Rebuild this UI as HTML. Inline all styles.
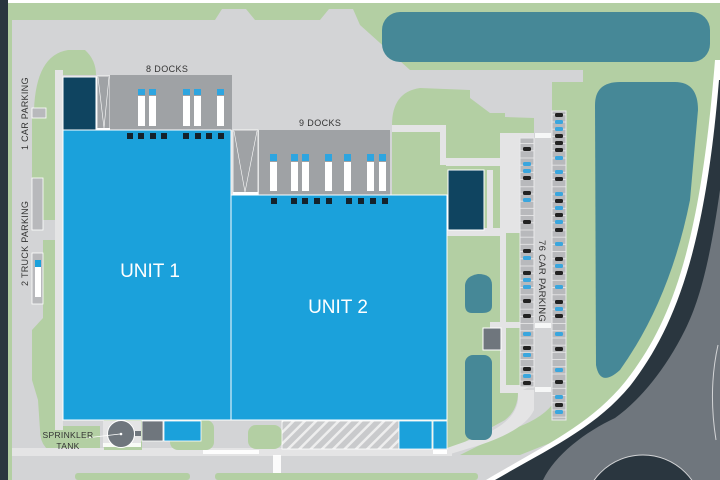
<!DOCTYPE html>
<html><head><meta charset="utf-8"><style>
html,body{margin:0;padding:0;background:#b3cfa3;width:720px;height:480px;overflow:hidden;}
svg{display:block;font-family:"Liberation Sans",sans-serif;}
</style></head><body>
<svg width="720" height="480" viewBox="0 0 720 480" xmlns="http://www.w3.org/2000/svg">
<defs>
<pattern id="hatch" width="8" height="8" patternUnits="userSpaceOnUse" patternTransform="rotate(45)">
<rect width="8" height="8" fill="#c9cacc"/><rect width="2.5" height="8" fill="#eeeeee"/>
</pattern>
<pattern id="stall" width="14" height="7.2" patternUnits="userSpaceOnUse">
<rect width="14" height="7.2" fill="#b8b9bc"/><rect y="6.4" width="14" height="0.8" fill="#e9e9ea"/>
</pattern>
</defs>
<rect width="720" height="480" fill="#b3cfa3"/>
<rect x="0" y="0" width="8" height="480" fill="#2a363f"/>
<rect x="8" y="0" width="712" height="3" fill="#ffffff"/>
<path d="M12,20 L215,20 L222,9 L246,9 L255,20 L320,20 L329,9 L353,9 L360,25 L410,70 L583,70 L583,82 L552,82 L552,135 L534,135 L534,118 L505,117 L505,113 L490,113 L470,98 L470,90 L420,88 Q392,92 392,125 L392,470 L12,470 Z" fill="#d3d4d6"/>
<path d="M34,110 Q36,55 68,50 L85,50 Q96,60 96,75 L60,75 L58,210 L43,210 L43,110 Z" fill="#b3cfa3"/>
<rect x="32" y="110" width="26" height="110" fill="#b3cfa3"/>
<path d="M43,240 L58,240 L58,420 L62,426 L100,426 L100,455 L62,455 Q40,452 40,430 L38,400 L32,380 L32,330 L43,318 Z" fill="#b3cfa3"/>
<rect x="55" y="70" width="8" height="360" fill="#e4e4e5"/>
<rect x="32" y="108" width="14" height="10" fill="#b8b9bc" stroke="#fff" stroke-width="0.8"/>
<rect x="32" y="178" width="11" height="52" fill="#b8b9bc" stroke="#fff" stroke-width="0.8"/>
<rect x="32" y="253" width="11" height="51" fill="#b8b9bc" stroke="#fff" stroke-width="0.8"/>
<rect x="35" y="261" width="6" height="36" fill="#fff"/>
<rect x="35" y="260" width="6" height="7" fill="#1ba1db"/>
<rect x="392" y="125" width="52" height="7" fill="#e4e4e5"/>
<rect x="440" y="125" width="6" height="40" fill="#e4e4e5"/>
<rect x="446" y="158" width="60" height="8" fill="#e4e4e5"/>
<rect x="500" y="133" width="34" height="100" fill="#e4e4e5"/>
<rect x="446" y="228" width="58" height="8" fill="#e4e4e5"/>
<rect x="487" y="170" width="6" height="62" fill="#e4e4e5"/>
<rect x="500" y="230" width="6" height="160" fill="#e4e4e5"/>
<rect x="490" y="322" width="30" height="6" fill="#e4e4e5"/>
<rect x="500" y="385" width="34" height="8" fill="#e4e4e5"/>
<rect x="534" y="118" width="18" height="275" fill="#d3d4d6"/>
<path d="M534,385 L552,385 L552,405 Q540,420 510,430 L450,460 L392,465 L392,455 L450,450 L505,420 Q518,410 518,392 Z" fill="#d3d4d6"/>
<path d="M518,390 L534,390 L534,410 Q525,430 480,445 L447,455 L447,448 L470,440 Q515,425 518,400 Z" fill="#e4e4e5"/>
<path d="M12,455 L520,455 L545,445 L560,440 L530,470 L500,480 L12,480 Z" fill="#d3d4d6"/>
<rect x="12" y="448" width="440" height="8" fill="#e4e4e5"/>
<rect x="75" y="473" width="115" height="7" fill="#b3cfa3" rx="3"/>
<rect x="215" y="473" width="28" height="7" fill="#b3cfa3" rx="3"/>
<rect x="238" y="473" width="240" height="7" fill="#b3cfa3" rx="3"/>
<rect x="104" y="420" width="38" height="30" fill="#b3cfa3"/>
<rect x="170" y="420" width="44" height="30" fill="#b3cfa3" rx="8"/>
<rect x="248" y="425" width="34" height="24" fill="#b3cfa3" rx="8"/>
<rect x="103" y="443" width="38" height="4" fill="#fff" opacity="0.9"/>
<rect x="203" y="450" width="56" height="4" fill="#fff" opacity="0.9"/>
<rect x="273" y="455" width="8" height="18" fill="#fff" opacity="0.9"/>
<rect x="433" y="450" width="14" height="4" fill="#fff"/>
<rect x="382" y="12" width="328" height="50" rx="18" fill="#468897"/>
<path d="M595,105 Q595,82 620,82 L675,82 Q698,82 698,110 L690,200 Q670,300 620,370 Q600,388 596,365 Z" fill="#468897"/>
<path d="M465,285 Q466,276 478,274 Q492,274 492,285 L492,306 Q492,313 482,313 L472,313 Q465,313 465,305 Z" fill="#468897"/>
<rect x="465" y="355" width="27" height="85" rx="8" fill="#468897"/>
<rect x="483" y="328" width="18" height="22" fill="#6f767d" stroke="#fff" stroke-width="1"/>
<!-- road -->
<path d="M715,60 L720,60 L720,480 L486,480 C545,445 590,425 625,382 C670,325 700,250 715,60 Z" fill="#ffffff"/>
<path d="M719,80 L720,80 L720,480 L495,480 C550,448 595,428 630,386 C675,328 705,250 719,80 Z" fill="#2a363f"/>
<path d="M720,190 L720,480 L543,480 C555,455 585,432 615,418 C640,400 665,370 685,330 C700,300 710,260 720,190 Z" fill="#6f767d"/>
<circle cx="643" cy="515" r="60" fill="#2a363f" stroke="#d3d4d6" stroke-width="1"/>
<path d="M718,345 Q708,390 716,440" fill="none" stroke="#d3d4d6" stroke-width="1"/>
<rect x="552" y="111" width="14" height="309" fill="url(#stall)" stroke="#e9e9ea" stroke-width="1"/>
<rect x="520" y="138" width="14" height="249" fill="url(#stall)" stroke="#e9e9ea" stroke-width="1"/>
<g fill="#222">
<rect x="555" y="113" width="8" height="4" rx="1.5"/><rect x="555" y="134" width="8" height="4" rx="1.5"/><rect x="555" y="141" width="8" height="4" rx="1.5"/><rect x="555" y="148" width="8" height="4" rx="1.5"/><rect x="555" y="177" width="8" height="4" rx="1.5"/><rect x="555" y="199" width="8" height="4" rx="1.5"/><rect x="555" y="213" width="8" height="4" rx="1.5"/><rect x="555" y="228" width="8" height="4" rx="1.5"/><rect x="555" y="257" width="8" height="4" rx="1.5"/><rect x="555" y="271" width="8" height="4" rx="1.5"/><rect x="555" y="300" width="8" height="4" rx="1.5"/><rect x="555" y="314" width="8" height="4" rx="1.5"/><rect x="555" y="347" width="8" height="4" rx="1.5"/><rect x="555" y="380" width="8" height="4" rx="1.5"/><rect x="555" y="403" width="8" height="4" rx="1.5"/>
<rect x="523" y="147" width="8" height="4" rx="1.5"/><rect x="523" y="176" width="8" height="4" rx="1.5"/><rect x="523" y="191" width="8" height="4" rx="1.5"/><rect x="523" y="220" width="8" height="4" rx="1.5"/><rect x="523" y="249" width="8" height="4" rx="1.5"/><rect x="523" y="271" width="8" height="4" rx="1.5"/><rect x="523" y="299" width="8" height="4" rx="1.5"/><rect x="523" y="314" width="8" height="4" rx="1.5"/><rect x="523" y="346" width="8" height="4" rx="1.5"/><rect x="523" y="367" width="8" height="4" rx="1.5"/><rect x="523" y="381" width="8" height="4" rx="1.5"/>
</g>
<g fill="#3aa6de">
<rect x="555" y="120" width="8" height="4" rx="1.5"/><rect x="555" y="127" width="8" height="4" rx="1.5"/><rect x="555" y="156" width="8" height="4" rx="1.5"/><rect x="555" y="170" width="8" height="4" rx="1.5"/><rect x="555" y="192" width="8" height="4" rx="1.5"/><rect x="555" y="206" width="8" height="4" rx="1.5"/><rect x="555" y="220" width="8" height="4" rx="1.5"/><rect x="555" y="242" width="8" height="4" rx="1.5"/><rect x="555" y="264" width="8" height="4" rx="1.5"/><rect x="555" y="285" width="8" height="4" rx="1.5"/><rect x="555" y="307" width="8" height="4" rx="1.5"/><rect x="555" y="332" width="8" height="4" rx="1.5"/><rect x="555" y="368" width="8" height="4" rx="1.5"/><rect x="555" y="395" width="8" height="4" rx="1.5"/><rect x="555" y="410" width="8" height="4" rx="1.5"/>
<rect x="523" y="162" width="8" height="4" rx="1.5"/><rect x="523" y="169" width="8" height="4" rx="1.5"/><rect x="523" y="198" width="8" height="4" rx="1.5"/><rect x="523" y="256" width="8" height="4" rx="1.5"/><rect x="523" y="278" width="8" height="4" rx="1.5"/><rect x="523" y="285" width="8" height="4" rx="1.5"/><rect x="523" y="332" width="8" height="4" rx="1.5"/><rect x="523" y="353" width="8" height="4" rx="1.5"/><rect x="523" y="374" width="8" height="4" rx="1.5"/>
</g>
<rect x="535" y="133" width="16" height="5" fill="#fff" opacity="0.8"/>
<rect x="535" y="323" width="16" height="5" fill="#fff" opacity="0.8"/>
<rect x="535" y="387" width="16" height="5" fill="#fff" opacity="0.8"/>
<text transform="translate(539,240) rotate(90)" font-size="9.5" fill="#333" letter-spacing="0.3">76 CAR PARKING</text>
<rect x="63" y="77" width="33" height="53" fill="#0f4460" stroke="#fff" stroke-width="1"/>
<rect x="97" y="76" width="13" height="54" fill="#9fa2a5" stroke="#fff" stroke-width="0.8"/>
<path d="M98,77 L104,128 L109,77" fill="none" stroke="#fff" stroke-width="0.6"/>
<rect x="97" y="128" width="14" height="4" fill="#fff"/>
<rect x="110" y="75" width="122" height="55" fill="#9fa2a5"/>
<rect x="233" y="130" width="25" height="65" fill="#9fa2a5" stroke="#fff" stroke-width="0.8"/>
<path d="M234,131 L245,192 L257,131" fill="none" stroke="#fff" stroke-width="0.6"/>
<rect x="233" y="192" width="25" height="4" fill="#fff"/>
<rect x="259" y="130" width="131" height="65" fill="#9fa2a5"/>
<rect x="63" y="130" width="168" height="290" fill="#1ba1db" stroke="#fff" stroke-width="1"/>
<rect x="231" y="195" width="216" height="225" fill="#1ba1db" stroke="#fff" stroke-width="1"/>
<rect x="448" y="170" width="36" height="60" fill="#0f4460" stroke="#fff" stroke-width="1"/>
<g fill="#fff"><rect x="138" y="96" width="7" height="30"/><rect x="149" y="96" width="7" height="30"/><rect x="183" y="96" width="7" height="30"/><rect x="194" y="96" width="7" height="30"/><rect x="217" y="96" width="7" height="30"/>
<rect x="270" y="162" width="7" height="29"/><rect x="291" y="162" width="7" height="29"/><rect x="302" y="162" width="7" height="29"/><rect x="325" y="162" width="7" height="29"/><rect x="344" y="162" width="7" height="29"/><rect x="367" y="162" width="7" height="29"/><rect x="379" y="162" width="7" height="29"/></g>
<g fill="#2ea5e0"><rect x="138" y="89" width="7" height="6"/><rect x="149" y="89" width="7" height="6"/><rect x="183" y="89" width="7" height="6"/><rect x="194" y="89" width="7" height="6"/><rect x="217" y="89" width="7" height="6"/>
<rect x="270" y="154" width="7" height="7"/><rect x="291" y="154" width="7" height="7"/><rect x="302" y="154" width="7" height="7"/><rect x="325" y="154" width="7" height="7"/><rect x="344" y="154" width="7" height="7"/><rect x="367" y="154" width="7" height="7"/><rect x="379" y="154" width="7" height="7"/></g>
<g fill="#14222c"><rect x="127" y="133" width="6" height="6"/><rect x="138" y="133" width="6" height="6"/><rect x="150" y="133" width="6" height="6"/><rect x="161" y="133" width="6" height="6"/><rect x="183" y="133" width="6" height="6"/><rect x="195" y="133" width="6" height="6"/><rect x="206" y="133" width="6" height="6"/><rect x="218" y="133" width="6" height="6"/>
<rect x="271" y="198" width="6" height="6"/><rect x="291" y="198" width="6" height="6"/><rect x="302" y="198" width="6" height="6"/><rect x="314" y="198" width="6" height="6"/><rect x="326" y="198" width="6" height="6"/><rect x="346" y="198" width="6" height="6"/><rect x="358" y="198" width="6" height="6"/><rect x="370" y="198" width="6" height="6"/><rect x="382" y="198" width="6" height="6"/></g>
<text x="146" y="72" font-size="9" fill="#333" letter-spacing="0.4">8 DOCKS</text>
<text x="299" y="126" font-size="9" fill="#333" letter-spacing="0.4">9 DOCKS</text>
<text x="150" y="277" font-size="19" fill="#fff" text-anchor="middle">UNIT 1</text>
<text x="338" y="313" font-size="19" fill="#fff" text-anchor="middle">UNIT 2</text>
<text transform="translate(28,150) rotate(-90)" font-size="9" fill="#333" letter-spacing="0.3">1 CAR PARKING</text>
<text transform="translate(28,286) rotate(-90)" font-size="9" fill="#333" letter-spacing="0.3">2 TRUCK PARKING</text>
<rect x="103" y="421" width="38" height="22" fill="#e4e4e5"/>
<circle cx="121" cy="434" r="13.5" fill="#6f767d" stroke="#fff" stroke-width="1"/>
<circle cx="121" cy="434" r="1.3" fill="#fff"/>
<line x1="86" y1="438" x2="120" y2="434" stroke="#fff" stroke-width="0.8"/>
<rect x="135" y="431" width="6" height="5" fill="#6f767d"/>
<rect x="142" y="421" width="21" height="20" fill="#6f767d" stroke="#fff" stroke-width="0.8"/>
<rect x="164" y="421" width="37" height="20" fill="#1ba1db" stroke="#fff" stroke-width="0.8"/>
<rect x="282" y="421" width="117" height="28" fill="url(#hatch)" stroke="#fff" stroke-width="0.8"/>
<rect x="399" y="421" width="33" height="28" fill="#1ba1db" stroke="#fff" stroke-width="0.8"/>
<rect x="433" y="421" width="14" height="28" fill="#1ba1db" stroke="#fff" stroke-width="0.8"/>
<text x="68" y="438" font-size="8.5" fill="#333" text-anchor="middle" letter-spacing="0.3">SPRINKLER</text>
<text x="68" y="449" font-size="8.5" fill="#333" text-anchor="middle" letter-spacing="0.3">TANK</text>
</svg>
</body></html>
